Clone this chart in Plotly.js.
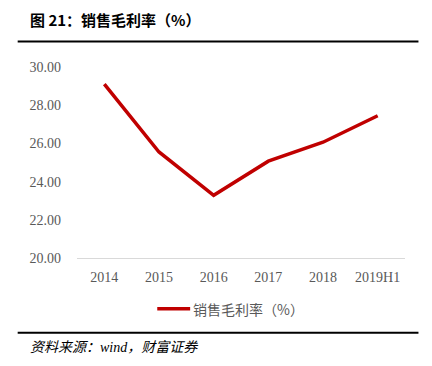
<!DOCTYPE html>
<html>
<head>
<meta charset="utf-8">
<script src="https://cdn.plot.ly/plotly-3.0.1.min.js"></script>
<style>html,body{margin:0;padding:0;background:#fff;}#chart{width:432px;height:366px;}</style>
</head>
<body>
<div id="chart"></div>
<script>
const categories = ["2014", "2015", "2016", "2017", "2018", "2019H1"];
const grossMargin = [29.1, 25.55, 23.28, 25.07, 26.06, 27.45];
const yTickVals = [20, 22, 24, 26, 28, 30];
const yTickText = ["20.00", "22.00", "24.00", "26.00", "28.00", "30.00"];
const seriesName = "销售毛利率（%）";

const W = 432, H = 366;
const L = 76.5, R = 26.5, T = 66.5, B = 108;
const pw = W - L - R, ph = H - T - B;
function px(x) { return (x - L) / pw; }
function py(y) { return (H - B - y) / ph; }

const trace = {
  x: categories, y: grossMargin, type: "scatter", mode: "lines",
  name: seriesName,
  line: {color: "#C00000", width: 3.5},
  hoverinfo: "skip"
};

const layout = {
  width: W, height: H,
  margin: {l: L, r: R, t: T, b: B, pad: 0},
  paper_bgcolor: "#fff", plot_bgcolor: "#fff",
  showlegend: false,
  xaxis: {
    type: "category", range: [-0.5, 5.5],
    showgrid: false, zeroline: false,
    showline: true, linecolor: "#d9d9d9", linewidth: 1,
    ticks: "", ticklen: 0, ticklabelstandoff: 6,
    tickfont: {family: "Liberation Serif, Times New Roman, serif", size: 14, color: "#595959"},
    fixedrange: true
  },
  yaxis: {
    range: [20, 30], tickvals: yTickVals, ticktext: yTickText,
    showgrid: false, zeroline: false, showline: false, ticks: "",
    ticklabelstandoff: 15,
    tickfont: {family: "Liberation Serif, Times New Roman, serif", size: 14, color: "#595959"},
    fixedrange: true
  },
  shapes: [
    {type: "line", xref: "paper", yref: "paper", x0: px(17), x1: px(419), y0: py(41), y1: py(41), line: {color: "#000", width: 2}},
    {type: "line", xref: "paper", yref: "paper", x0: px(17), x1: px(419), y0: py(333), y1: py(333), line: {color: "#000", width: 2}},
    {type: "line", xref: "paper", yref: "paper", x0: px(157), x1: px(190), y0: py(309), y1: py(309), line: {color: "#C00000", width: 3.5}}
  ],
  annotations: [
    {xref: "paper", yref: "paper", x: px(27), y: py(19), xanchor: "left", yanchor: "middle", showarrow: false,
     text: "<b>图 21：销售毛利率（%）</b>", font: {family: "Noto Sans CJK SC, Liberation Serif, serif", size: 15, color: "#000"}},
    {xref: "paper", yref: "paper", x: px(191), y: py(309), xanchor: "left", yanchor: "middle", showarrow: false,
     text: seriesName, font: {family: "Noto Sans CJK SC, Liberation Serif, serif", size: 14, color: "#595959"}},
    {xref: "paper", yref: "paper", x: px(27), y: py(348), xanchor: "left", yanchor: "middle", showarrow: false,
     text: "<i>资料来源：wind，财富证券</i>", font: {family: "Liberation Serif, Noto Sans CJK SC, serif", size: 14, color: "#000"}}
  ]
};

Plotly.newPlot("chart", [trace], layout, {displayModeBar: false, staticPlot: true});
</script>
</body>
</html>
